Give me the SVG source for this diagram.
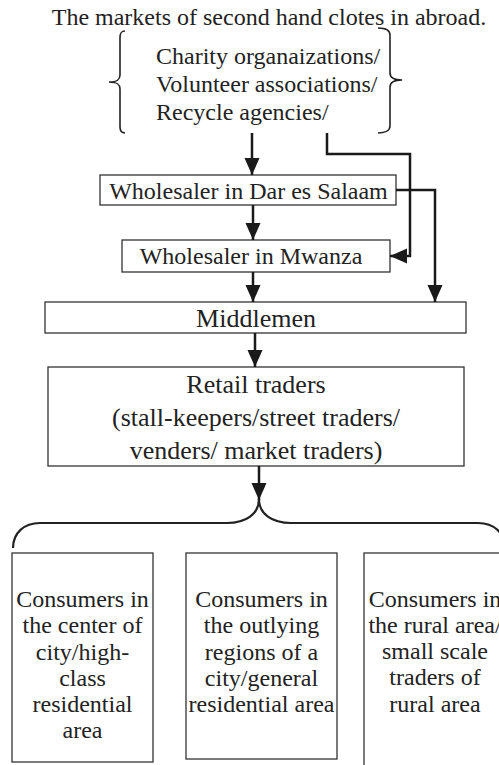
<svg xmlns="http://www.w3.org/2000/svg" width="499" height="765" viewBox="0 0 499 765">
<style>
  .t { font-family: "Liberation Serif", "Times New Roman", serif; font-size: 24px; fill: #222; }
  .c { text-anchor: middle; }
  .big { font-size: 26px; }
  .box { fill: #fff; stroke: #333; stroke-width: 1.3; }
  .conn { fill: none; stroke: #1a1a1a; stroke-width: 2.5; }
  .brace { fill: none; stroke: #222; stroke-width: 1.6; }
</style>
<defs>
  <marker id="arrow" markerUnits="userSpaceOnUse" markerWidth="17" markerHeight="16" viewBox="0 0 17 16" refX="17" refY="8" orient="auto">
    <path d="M0,0.5 L17,8 L0,15.5 z" fill="#1a1a1a"/>
  </marker>
</defs>
<rect width="499" height="765" fill="#fff"/>

<g id="title">
  <text class="t c" x="269" y="25">The markets of second hand clotes in abroad.</text>
</g>

<g id="sources">
  <path class="brace" d="M125,31 C121,31 120,33 120,38 L120,75 C120,80 117,82 109,82 C117,82 120,84 120,89 L120,127 C120,131 121,133 125,133"/>
  <path class="brace" d="M378,28 C383,28 390,29 390,35 L390,73 C390,78 394,80 402,80 C394,80 390,82 390,87 L390,126 C390,131 384,133 378,133"/>
  <text class="t" x="156" y="64">Charity organaizations/</text>
  <text class="t" x="156" y="92">Volunteer associations/</text>
  <text class="t" x="156" y="120">Recycle agencies/</text>
</g>

<g id="wholesaler-dar">
  <rect class="box" x="100" y="175" width="296" height="30"/>
  <text class="t c" x="248.5" y="199">Wholesaler in Dar es Salaam</text>
</g>

<g id="wholesaler-mwanza">
  <rect class="box" x="122" y="240" width="268" height="32"/>
  <text class="t c" x="251" y="264">Wholesaler in Mwanza</text>
</g>

<g id="middlemen">
  <rect class="box" x="45" y="302" width="421" height="31"/>
  <text class="t c big" x="256" y="327">Middlemen</text>
</g>

<g id="retail">
  <rect class="box" x="48" y="367" width="416" height="99"/>
  <text class="t c big" x="256" y="393">Retail traders</text>
  <text class="t c big" x="256" y="426">(stall-keepers/street traders/</text>
  <text class="t c big" x="256" y="459">venders/ market traders)</text>
</g>

<g id="consumers-center">
  <rect class="box" x="12" y="553" width="141" height="209"/>
  <text class="t c" x="82.5" y="607">Consumers in</text>
  <text class="t c" x="82.5" y="633">the center of</text>
  <text class="t c" x="82.5" y="660">city/high-</text>
  <text class="t c" x="82.5" y="686">class</text>
  <text class="t c" x="82.5" y="712">residential</text>
  <text class="t c" x="82.5" y="738">area</text>
</g>

<g id="consumers-outlying">
  <rect class="box" x="186" y="553" width="151" height="206"/>
  <text class="t c" x="261.5" y="607">Consumers in</text>
  <text class="t c" x="261.5" y="633">the outlying</text>
  <text class="t c" x="261.5" y="660">regions of a</text>
  <text class="t c" x="261.5" y="686">city/general</text>
  <text class="t c" x="261.5" y="712">residential area</text>
</g>

<g id="consumers-rural">
  <rect class="box" x="364" y="553" width="143" height="240"/>
  <text class="t c" x="435" y="607">Consumers in</text>
  <text class="t c" x="435" y="633">the rural area/</text>
  <text class="t c" x="435" y="659">small scale</text>
  <text class="t c" x="435" y="685">traders of</text>
  <text class="t c" x="435" y="712">rural area</text>
</g>

<g id="connectors">
  <path class="conn" d="M252,133 L252,175" marker-end="url(#arrow)"/>
  <path class="conn" d="M327,133 L327,154 L410,154 L410,256 L390,256" marker-end="url(#arrow)"/>
  <path class="conn" d="M396,190 L435,190 L435,302" marker-end="url(#arrow)"/>
  <path class="conn" d="M253,205 L253,240" marker-end="url(#arrow)"/>
  <path class="conn" d="M253,272 L253,302" marker-end="url(#arrow)"/>
  <path class="conn" d="M255,333 L255,367" marker-end="url(#arrow)"/>
  <path class="conn" d="M259,466 L259,500" marker-end="url(#arrow)"/>
  <path class="brace" style="stroke-width:2.2" d="M259,499 C259,514 246,523 227,523 L40,523 C24,523 13,533 13,548"/>
  <path class="brace" style="stroke-width:2.2" d="M259,499 C259,514 272,523 291,523 L478,523 C494,523 505,533 505,548"/>
</g>
</svg>
